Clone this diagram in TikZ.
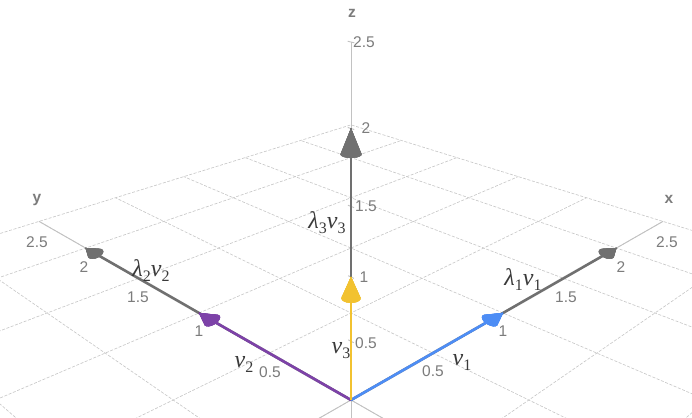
\RequirePackage{fix-cm}
\documentclass[tikz,border=0pt]{standalone}
\usepackage{fontspec}
\setsansfont{Liberation Sans}
\newfontfamily\vfont{Liberation Serif}
\definecolor{gridc}{HTML}{C6C6C6}
\definecolor{axisc}{HTML}{C2C2C2}
\definecolor{vecgray}{HTML}{707070}
\definecolor{vblue}{HTML}{4D8DF5}
\definecolor{vpurple}{HTML}{7D42A8}
\definecolor{vyellow}{HTML}{F2C230}
\definecolor{tickc}{HTML}{7C7C7C}
\definecolor{mathc}{HTML}{3A3A3A}

% perspective projection of (x,y,z) to a named coordinate, in pixels
\newcommand\setpt[4]{%
  \pgfmathsetmacro\myw{1+0.17*((#2)+(#3))-0.086*(#4)}%
  \pgfmathsetmacro\myx{351+177.8*((#2)-(#3))/\myw}%
  \pgfmathsetmacro\myy{400-(101.8*((#2)+(#3))+112.4*(#4))/\myw}%
  \coordinate (#1) at (\myx,\myy);}

\newcommand\conefan[2]{%
  \foreach \t in {0,20,...,340}{%
    \pgfmathtruncatemacro\u{mod(\t+20,360)}%
    \filldraw[#1,line width=0.3pt,line join=round] (#2a) -- (#2\t) -- (#2\u) -- cycle;}%
  \filldraw[#1,line width=0.3pt,line join=round] (#20) \foreach \t in {20,40,...,340}{-- (#2\t)} -- cycle;}

\newcommand\conex[3]{% prefix, apex x, colour
  \setpt{#1a}{#2}{0}{0}%
  \foreach \t in {0,20,...,340}{\setpt{#1\t}{#2-0.1}{0.045*cos(\t)}{0.045*sin(\t)}}%
  \conefan{#3}{#1}}
\newcommand\coney[3]{%
  \setpt{#1a}{0}{#2}{0}%
  \foreach \t in {0,20,...,340}{\setpt{#1\t}{0.045*cos(\t)}{#2-0.1}{0.045*sin(\t)}}%
  \conefan{#3}{#1}}
\newcommand\conez[3]{%
  \setpt{#1a}{0}{0}{#2}%
  \foreach \t in {0,20,...,340}{\setpt{#1\t}{0.035*cos(\t)}{0.035*sin(\t)}{#2-0.16}}%
  \conefan{#3}{#1}}

% italic serif symbol with a subscript digit
\newcommand\vsub[2]{{\itshape #1}\raisebox{-0.22em}{\fontsize{16}{16}\selectfont #2}}

\begin{document}
\begin{tikzpicture}[x=1pt,y=-1pt,
  gridline/.style={draw=gridc,line width=0.6pt,dash pattern=on 3pt off 1.6pt},
  axisline/.style={draw=axisc,line width=0.9pt},
  vec/.style={line width=2.6pt},
  ticklab/.style={font=\sffamily\fontsize{15.5}{15.5}\selectfont,text=tickc,inner sep=0pt},
  axlab/.style={font=\sffamily\bfseries\fontsize{15.5}{15.5}\selectfont,text=tickc,inner sep=0pt,anchor=base},
  veclab/.style={font=\vfont\fontsize{24}{24}\selectfont,text=mathc,inner sep=0pt,anchor=base}]
\useasboundingbox (0,0) rectangle (692,417);
\fill[white] (0,0) rectangle (692,417);
\begin{scope}
\clip (0,0) rectangle (692,417);
% floor grid
\foreach \i in {-2,-1.5,...,2.5}{%
  \setpt{ga}{\i}{-2}{0}\setpt{gb}{\i}{2.5}{0}%
  \draw[gridline] (ga) -- (gb);
  \setpt{gc}{-2}{\i}{0}\setpt{gd}{2.5}{\i}{0}%
  \draw[gridline] (gc) -- (gd);
}
% axes
\setpt{O}{0}{0}{0}
\setpt{xn}{-2}{0}{0}\setpt{xe}{2.5}{0}{0}
\setpt{yn}{0}{-2}{0}\setpt{ye}{0}{2.5}{0}
\setpt{zn}{0}{0}{-0.5}\setpt{ze}{0}{0}{2.5}
\draw[axisline] (xn) -- (xe);
\draw[axisline] (yn) -- (ye);
\draw[axisline] (zn) -- (ze);
\foreach \k in {0.5,1,1.5,2,2.5}{%
  \setpt{ta}{0}{0.015}{\k}\setpt{tb}{0}{-0.015}{\k}%
  \draw[axisc,line width=0.9pt] (ta) -- (tb);}
% vectors lambda v (gray)
\setpt{gx}{1.9}{0}{0}\setpt{gy}{0}{1.9}{0}\setpt{gz}{0}{0}{1.84}
\draw[vec,vecgray] (O) -- (gx);
\conex{cgx}{2}{vecgray}
\draw[vec,vecgray] (O) -- (gy);
\coney{cgy}{2}{vecgray}
\draw[vec,vecgray] (O) -- (gz);
\conez{cgz}{2}{vecgray}
% eigenvectors
\setpt{bx}{0.9}{0}{0}\setpt{py}{0}{0.9}{0}\setpt{yz}{0}{0}{0.84}
\draw[vec,vblue] (O) -- (bx);
\conex{cbx}{1}{vblue}
\draw[vec,vpurple] (O) -- (py);
\coney{cpy}{1}{vpurple}
\draw[vec,vyellow] (O) -- (yz);
\conez{cyz}{1}{vyellow}
\end{scope}
% tick labels
\node[ticklab] (tx05) at (433,371) {0.5};
\node[ticklab] (tx10) at (503,331) {1};
\node[ticklab] (tx15) at (566,297) {1.5};
\node[ticklab] (tx20) at (621,267) {2};
\node[ticklab] (tx25) at (667,242) {2.5};
\node[ticklab] (ty05) at (270,372) {0.5};
\node[ticklab] (ty10) at (199,331) {1};
\node[ticklab] (ty15) at (138,297) {1.5};
\node[ticklab] (ty20) at (84,267) {2};
\node[ticklab] (ty25) at (37,242) {2.5};
\node[ticklab] (tz05) at (366,343) {0.5};
\node[ticklab] (tz10) at (364,277) {1};
\node[ticklab] (tz15) at (366,206) {1.5};
\node[ticklab] (tz20) at (366,128) {2};
\node[ticklab] (tz25) at (364,42) {2.5};
% axis names
\node[axlab] (lx) at (669,203) {x};
\node[axlab] (ly) at (37,202) {y};
\node[axlab] (lz) at (352,18) {z};
% vector labels
\node[veclab] (l1) at (523,285) {\vsub{λ}{1}\vsub{v}{1}};
\node[veclab] (l2) at (151,276) {\vsub{λ}{2}\vsub{v}{2}};
\node[veclab] (l3) at (327,228) {\vsub{λ}{3}\vsub{v}{3}};
\node[veclab] (v1) at (462,365) {\vsub{v}{1}};
\node[veclab] (v2) at (244,367) {\vsub{v}{2}};
\node[veclab] (v3) at (341,353) {\vsub{v}{3}};
\end{tikzpicture}
\end{document}
